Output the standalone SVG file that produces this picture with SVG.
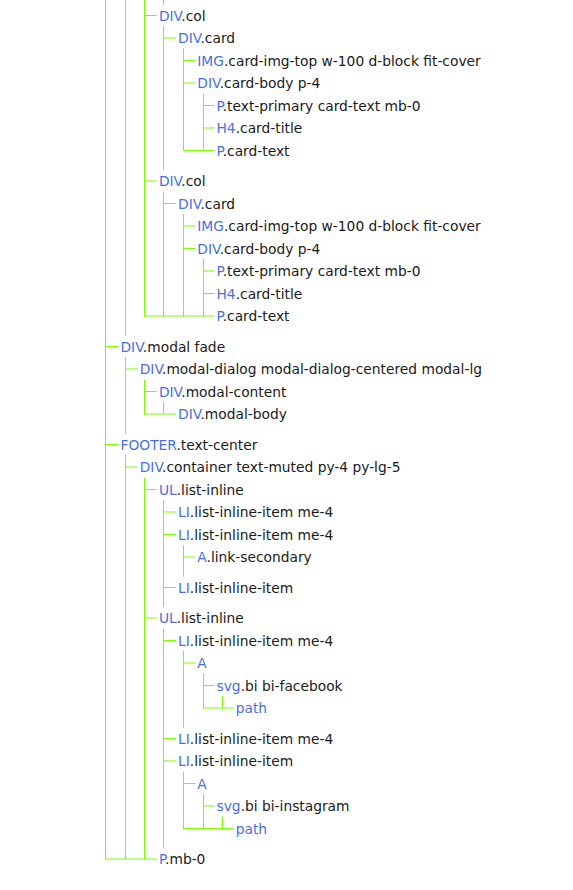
<svg xmlns="http://www.w3.org/2000/svg" width="573" height="890" viewBox="0 0 573 890">
<style>
.bg{fill:#ffffff}
.c path{stroke:#7cfc00;stroke-width:1;fill:none;stroke-linecap:square}
text{font-family:"DejaVu Sans","Liberation Sans",sans-serif;font-size:13.8px;fill:#1a1a1a}
.g{fill:#4a6fe3}
</style>
<rect class="bg" x="0" y="0" width="573" height="890"/>
<g id="connectors" class="c">
<path d="M105.5 0V859M125.5 0V335.25M125.5 357.5V433.25M125.5 455.5V859M144.5 0V316M144.5 380V414M144.5 478V859M163.5 0V4.25M163.5 26.5V169.75M163.5 192V316M163.5 402.5V414M163.5 500.5V606.75M163.5 629V847.75M183.5 49V150.5M183.5 214.5V316M183.5 545.5V576.25M183.5 651.5V727.25M183.5 772V828.5M203.5 94V150.5M203.5 259.5V316M203.5 674V708M203.5 794.5V828.5M222.5 696.5V708M222.5 817V828.5"/>
<path d="M144.5 15.5H156.4M163.5 38H175.6M183.5 60.5H194.8M183.5 83H194.8M203.5 105.5H214M203.5 128H214M183.5 150.5H214M144.5 181H156.4M163.5 203.5H175.6M183.5 226H194.8M183.5 248.5H194.8M203.5 271H214M203.5 293.5H214M144.5 316H214M105.5 346.5H118M125.5 369H137.2M144.5 391.5H156.4M144.5 414H175.6M105.5 444.5H118M125.5 467H137.2M144.5 489.5H156.4M163.5 512H175.6M163.5 534.5H175.6M183.5 557H194.8M163.5 587.5H175.6M144.5 618H156.4M163.5 640.5H175.6M183.5 663H194.8M203.5 685.5H214M203.5 708H233.2M163.5 738.5H175.6M163.5 761H175.6M183.5 783.5H194.8M203.5 806H214M183.5 828.5H233.2M105.5 859H156.4"/>
</g>
<g id="n1"><text x="158.9" y="20.5"><tspan class="g">DIV</tspan>.col</text></g>
<g id="n2"><text x="178.1" y="43"><tspan class="g">DIV</tspan>.card</text></g>
<g id="n3"><text x="197.3" y="65.5"><tspan class="g">IMG</tspan>.card-img-top w-100 d-block fit-cover</text></g>
<g id="n4"><text x="197.3" y="88"><tspan class="g">DIV</tspan>.card-body p-4</text></g>
<g id="n5"><text x="216.5" y="110.5"><tspan class="g">P</tspan>.text-primary card-text mb-0</text></g>
<g id="n6"><text x="216.5" y="133"><tspan class="g">H4</tspan>.card-title</text></g>
<g id="n7"><text x="216.5" y="155.5"><tspan class="g">P</tspan>.card-text</text></g>
<g id="n8"><text x="158.9" y="186"><tspan class="g">DIV</tspan>.col</text></g>
<g id="n9"><text x="178.1" y="208.5"><tspan class="g">DIV</tspan>.card</text></g>
<g id="n10"><text x="197.3" y="231"><tspan class="g">IMG</tspan>.card-img-top w-100 d-block fit-cover</text></g>
<g id="n11"><text x="197.3" y="253.5"><tspan class="g">DIV</tspan>.card-body p-4</text></g>
<g id="n12"><text x="216.5" y="276"><tspan class="g">P</tspan>.text-primary card-text mb-0</text></g>
<g id="n13"><text x="216.5" y="298.5"><tspan class="g">H4</tspan>.card-title</text></g>
<g id="n14"><text x="216.5" y="321"><tspan class="g">P</tspan>.card-text</text></g>
<g id="n15"><text x="120.5" y="351.5"><tspan class="g">DIV</tspan>.modal fade</text></g>
<g id="n16"><text x="139.7" y="374"><tspan class="g">DIV</tspan>.modal-dialog modal-dialog-centered modal-lg</text></g>
<g id="n17"><text x="158.9" y="396.5"><tspan class="g">DIV</tspan>.modal-content</text></g>
<g id="n18"><text x="178.1" y="419"><tspan class="g">DIV</tspan>.modal-body</text></g>
<g id="n19"><text x="120.5" y="449.5"><tspan class="g">FOOTER</tspan>.text-center</text></g>
<g id="n20"><text x="139.7" y="472"><tspan class="g">DIV</tspan>.container text-muted py-4 py-lg-5</text></g>
<g id="n21"><text x="158.9" y="494.5"><tspan class="g">UL</tspan>.list-inline</text></g>
<g id="n22"><text x="178.1" y="517"><tspan class="g">LI</tspan>.list-inline-item me-4</text></g>
<g id="n23"><text x="178.1" y="539.5"><tspan class="g">LI</tspan>.list-inline-item me-4</text></g>
<g id="n24"><text x="197.3" y="562"><tspan class="g">A</tspan>.link-secondary</text></g>
<g id="n25"><text x="178.1" y="592.5"><tspan class="g">LI</tspan>.list-inline-item</text></g>
<g id="n26"><text x="158.9" y="623"><tspan class="g">UL</tspan>.list-inline</text></g>
<g id="n27"><text x="178.1" y="645.5"><tspan class="g">LI</tspan>.list-inline-item me-4</text></g>
<g id="n28"><text x="197.3" y="668"><tspan class="g">A</tspan></text></g>
<g id="n29"><text x="216.5" y="690.5"><tspan class="g">svg</tspan>.bi bi-facebook</text></g>
<g id="n30"><text x="235.7" y="713"><tspan class="g">path</tspan></text></g>
<g id="n31"><text x="178.1" y="743.5"><tspan class="g">LI</tspan>.list-inline-item me-4</text></g>
<g id="n32"><text x="178.1" y="766"><tspan class="g">LI</tspan>.list-inline-item</text></g>
<g id="n33"><text x="197.3" y="788.5"><tspan class="g">A</tspan></text></g>
<g id="n34"><text x="216.5" y="811"><tspan class="g">svg</tspan>.bi bi-instagram</text></g>
<g id="n35"><text x="235.7" y="833.5"><tspan class="g">path</tspan></text></g>
<g id="n36"><text x="158.9" y="864"><tspan class="g">P</tspan>.mb-0</text></g>
</svg>
